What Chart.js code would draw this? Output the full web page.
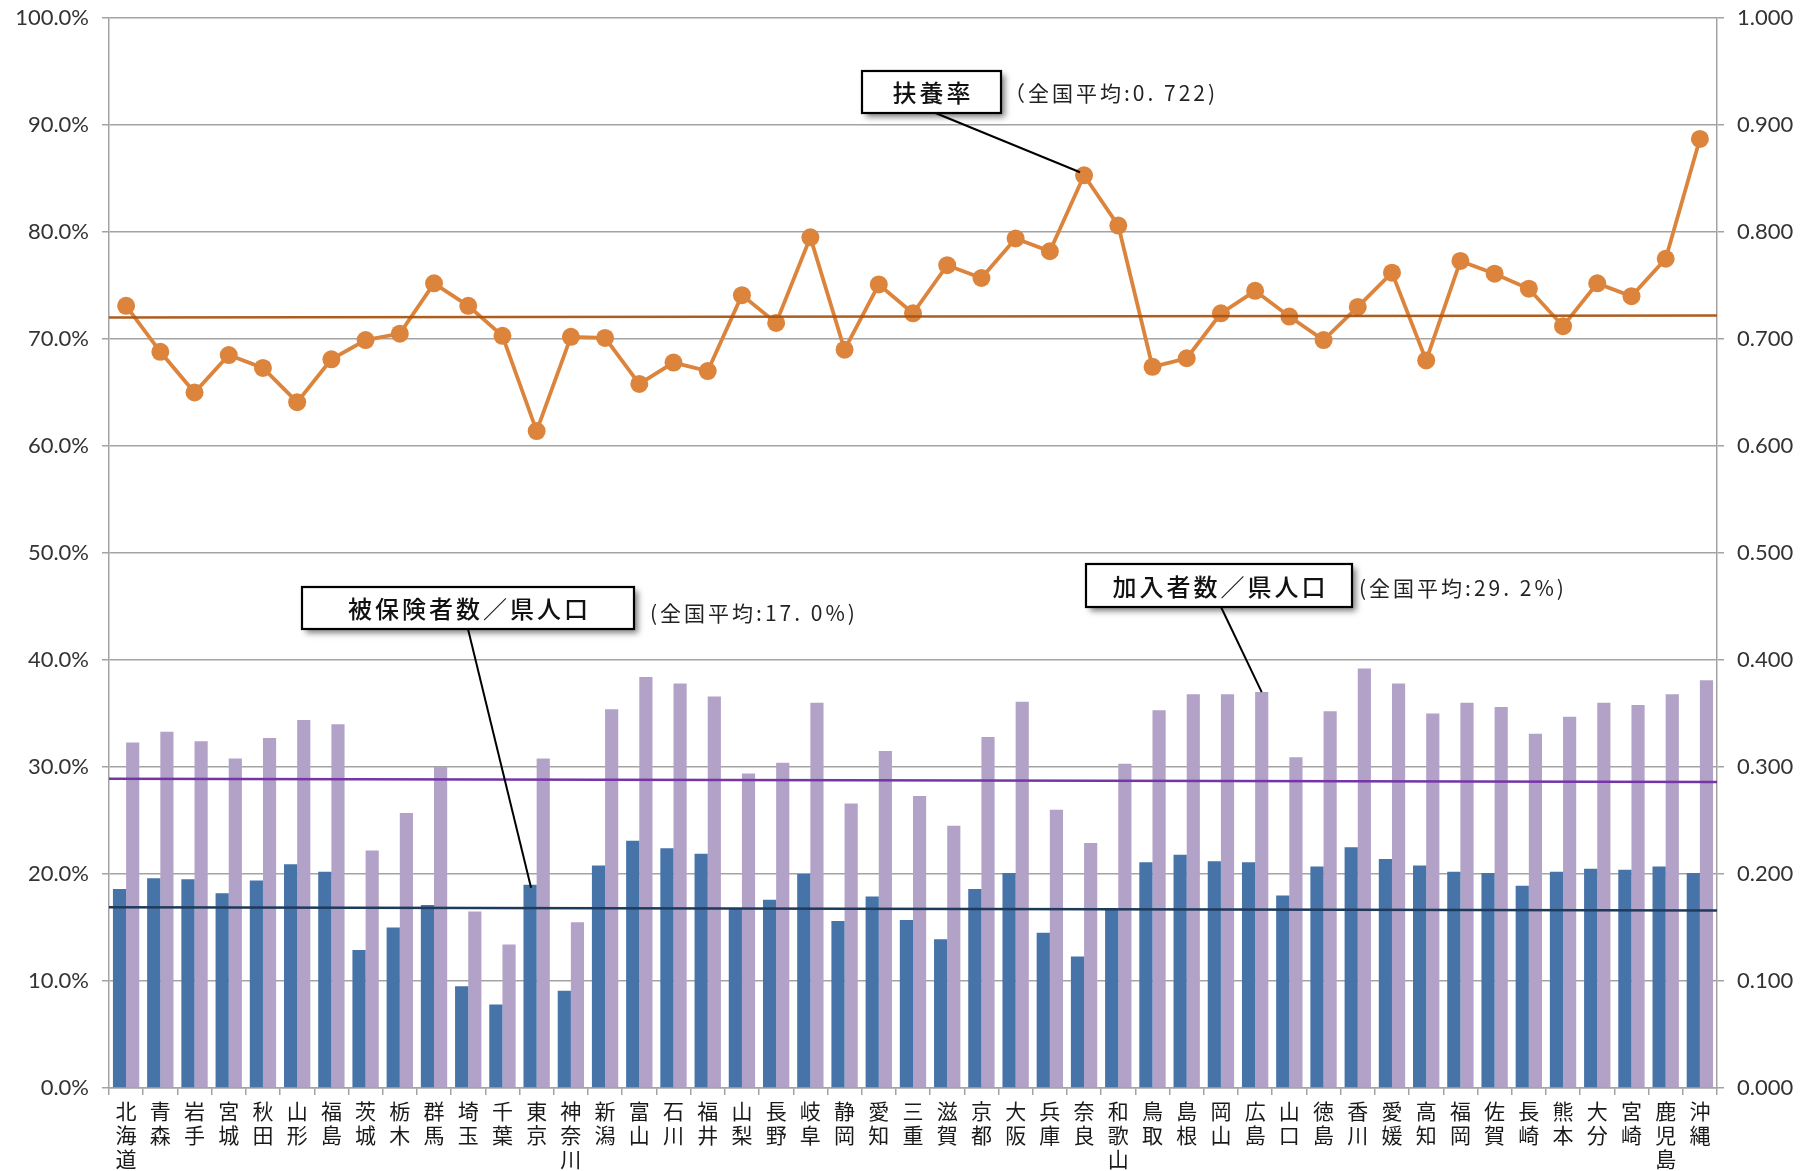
<!DOCTYPE html>
<html><head><meta charset="utf-8">
<script src="https://cdn.jsdelivr.net/npm/chart.js@4.4.1/dist/chart.umd.min.js"></script>
<style>html,body{margin:0;padding:0;background:#fff;} #wrap{width:1804px;height:1171px;}</style>
</head><body><div id="wrap"><canvas id="c" width="1804" height="1171"></canvas></div>
<script>
const prefectures = ['北海道','青森','岩手','宮城','秋田','山形','福島','茨城','栃木','群馬','埼玉','千葉','東京','神奈川','新潟','富山','石川','福井','山梨','長野','岐阜','静岡','愛知','三重','滋賀','京都','大阪','兵庫','奈良','和歌山','鳥取','島根','岡山','広島','山口','徳島','香川','愛媛','高知','福岡','佐賀','長崎','熊本','大分','宮崎','鹿児島','沖縄'];
// 被保険者数／県人口 (%)
const insuredRatio = [18.6,19.6,19.5,18.2,19.4,20.9,20.2,12.9,15.0,17.1,9.5,7.8,19.0,9.1,20.8,23.1,22.4,21.9,16.8,17.6,20.0,15.6,17.9,15.7,13.9,18.6,20.1,14.5,12.3,16.7,21.1,21.8,21.2,21.1,18.0,20.7,22.5,21.4,20.8,20.2,20.1,18.9,20.2,20.5,20.4,20.7,20.1];
// 加入者数／県人口 (%)
const memberRatio = [32.3,33.3,32.4,30.8,32.7,34.4,34.0,22.2,25.7,30.0,16.5,13.4,30.8,15.5,35.4,38.4,37.8,36.6,29.4,30.4,36.0,26.6,31.5,27.3,24.5,32.8,36.1,26.0,22.9,30.3,35.3,36.8,36.8,37.0,30.9,35.2,39.2,37.8,35.0,36.0,35.6,33.1,34.7,36.0,35.8,36.8,38.1];
// 扶養率
const dependencyRate = [0.731,0.688,0.650,0.685,0.673,0.641,0.681,0.699,0.705,0.752,0.731,0.703,0.614,0.702,0.701,0.658,0.678,0.670,0.741,0.715,0.795,0.690,0.751,0.724,0.769,0.757,0.794,0.782,0.853,0.806,0.674,0.682,0.724,0.745,0.721,0.699,0.730,0.762,0.680,0.773,0.761,0.747,0.712,0.752,0.740,0.775,0.887];
// 全国平均 reference lines (left end, right end)
const insuredAvgEnds = [16.9, 16.6];
const memberAvgEnds = [28.9, 28.6];
const dependencyAvgEnds = [0.720, 0.722];
const noteDependency = '（全国平均:0. 722)';
const noteInsured = '(全国平均:17. 0%)';
const noteMember = '(全国平均:29. 2%)';

const CJK = '"Noto Sans CJK JP", "Noto Sans", sans-serif';
const NUMF = 'Lato, "Open Sans", sans-serif';
const GRID = '#a3a3a3';

const avgLines = {
  id: 'avgLines',
  afterDatasetsDraw(chart) {
    const ctx = chart.ctx, a = chart.chartArea;
    const y = chart.scales.y, y2 = chart.scales.y2;
    const draw = (scale, ends, color, w) => {
      ctx.save();
      ctx.strokeStyle = color; ctx.lineWidth = w;
      ctx.beginPath();
      ctx.moveTo(a.left, scale.getPixelForValue(ends[0]));
      ctx.lineTo(a.right, scale.getPixelForValue(ends[1]));
      ctx.stroke();
      ctx.restore();
    };
    draw(y, insuredAvgEnds, '#1f3b5c', 2.5);
    draw(y, memberAvgEnds, '#7535a8', 2.5);
    draw(y2, dependencyAvgEnds, 'rgba(168,84,20,0.95)', 2.5);
  }
};

const annot = {
  id: 'annot',
  afterDraw(chart) {
    const ctx = chart.ctx;
    const mLine = chart.getDatasetMeta(0);
    const mIns = chart.getDatasetMeta(1);
    const mMem = chart.getDatasetMeta(2);
    const pNara = mLine.data[prefectures.indexOf('奈良')];
    const pTokyo = mIns.data[prefectures.indexOf('東京')];
    const pHiro = mMem.data[prefectures.indexOf('広島')];
    ctx.save();
    ctx.strokeStyle = '#000'; ctx.lineWidth = 2;
    const seg = (x1,y1,x2,y2)=>{ctx.beginPath();ctx.moveTo(x1,y1);ctx.lineTo(x2,y2);ctx.stroke();};
    seg(933, 112, pNara.x - 4, pNara.y - 3);
    seg(468, 629, pTokyo.x + 1, pTokyo.y + 3);
    seg(1221, 607, pHiro.x, pHiro.y);
    const box = (x,y,w,h,t)=>{
      ctx.save();
      ctx.shadowColor='rgba(0,0,0,0.5)'; ctx.shadowBlur=6; ctx.shadowOffsetX=4; ctx.shadowOffsetY=4;
      ctx.fillStyle='#fff'; ctx.fillRect(x,y,w,h);
      ctx.restore();
      ctx.strokeStyle='#000'; ctx.lineWidth=2.2; ctx.strokeRect(x,y,w,h);
      ctx.fillStyle='#111'; ctx.font='500 24px '+CJK; ctx.textAlign='center'; ctx.textBaseline='middle';
      ctx.letterSpacing='3px';
      ctx.fillText(t, x+w/2+1.5, y+h/2+1);
      ctx.letterSpacing='0px';
    };
    box(862, 71, 139, 42, '扶養率');
    box(302, 587, 332, 42, '被保険者数／県人口');
    box(1086, 564, 266, 43, '加入者数／県人口');
    ctx.fillStyle='#222'; ctx.font='21px '+CJK; ctx.textAlign='left'; ctx.textBaseline='middle';
    ctx.letterSpacing='3px';
    ctx.fillText(noteDependency, 1004, 93);
    ctx.fillText(noteInsured, 650, 613);
    ctx.fillText(noteMember, 1359, 588);
    ctx.restore();
  }
};

new Chart(document.getElementById('c'), {
  type: 'bar',
  data: {
    labels: prefectures.map(p => p.split('')),
    datasets: [
      { type:'line', label:'扶養率', data: dependencyRate, yAxisID:'y2',
        borderColor:'#dc843c', backgroundColor:'#dc843c', borderWidth:3.8,
        pointRadius:9, pointBorderWidth:0, pointBackgroundColor:'#dc843c', tension:0, order:1 },
      { label:'被保険者数／県人口', data: insuredRatio, backgroundColor:'#4673a8', yAxisID:'y', order:4 },
      { label:'加入者数／県人口', data: memberRatio, backgroundColor:'#b3a2c7', yAxisID:'y', order:4 }
    ]
  },
  options: {
    responsive:false, animation:false,
    layout:{ padding:{ top:18, left:0, right:0, bottom:0 } },
    datasets:{ bar:{ barPercentage:1.0, categoryPercentage:0.77 } },
    plugins:{ legend:{display:false}, tooltip:{enabled:false} },
    scales:{
      x:{ type:'category', offset:true,
        grid:{ offset:true, drawOnChartArea:false, drawTicks:true, tickLength:7, color:GRID, lineWidth:1.5 },
        border:{ display:true, color:GRID, width:1.5 },
        ticks:{ autoSkip:false, maxRotation:0, minRotation:0, padding:4, color:'#1a1a1a',
          font:{ family:CJK, size:21, lineHeight:1.15 } },
        afterFit(s){ s.height = 83; s.paddingLeft = 0; s.paddingRight = 0; } },
      y:{ position:'left', min:0, max:100,
        ticks:{ stepSize:10, padding:13, color:'#333', font:{ family:NUMF, size:22 },
          callback:v=>v.toFixed(1)+'%' },
        grid:{ color:GRID, lineWidth:1.5, tickLength:7 },
        border:{ display:true, color:GRID, width:1.5 },
        afterFit(s){ s.width = 109; s.paddingTop = 0; s.paddingBottom = 0; } },
      y2:{ position:'right', min:0, max:1,
        ticks:{ stepSize:0.1, padding:13, color:'#333', font:{ family:NUMF, size:22 },
          callback:v=>Number(v).toFixed(3) },
        grid:{ drawOnChartArea:false, color:GRID, lineWidth:1.5, tickLength:7 },
        border:{ display:true, color:GRID, width:1.5 },
        afterFit(s){ s.width = 87; s.paddingTop = 0; s.paddingBottom = 0; } }
    }
  },
  plugins:[avgLines, annot]
});
</script></body></html>
